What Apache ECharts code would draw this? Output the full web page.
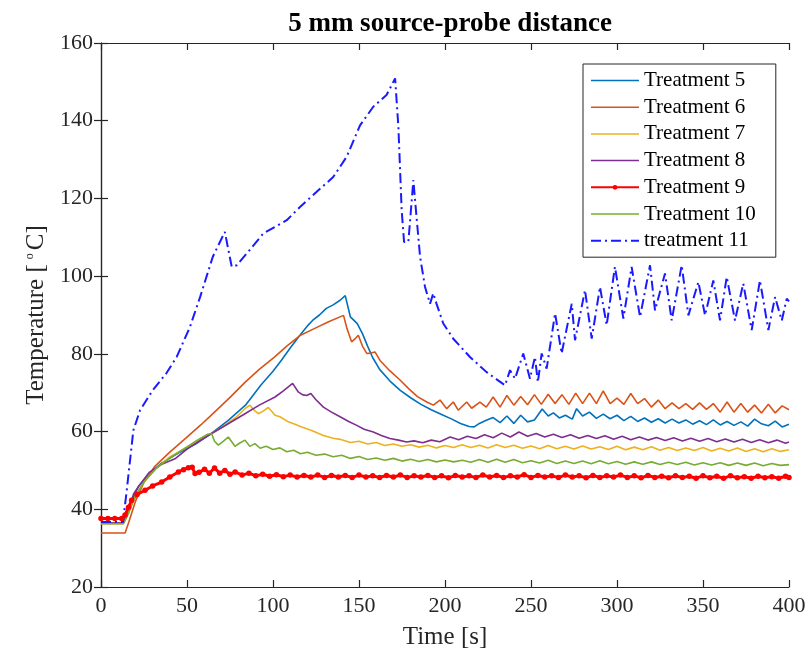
<!DOCTYPE html>
<html><head><meta charset="utf-8">
<script src="https://cdn.jsdelivr.net/npm/echarts@6/dist/echarts.min.js"></script>
<style>html,body{margin:0;padding:0;background:#fff}#c{width:811px;height:664px}</style>
</head><body><div id="c"></div>
<script>
const xTicks = [0,50,100,150,200,250,300,350,400];
const yTicks = [20,40,60,80,100,120,140,160];
const names = ['Treatment 5','Treatment 6','Treatment 7','Treatment 8','Treatment 9','Treatment 10','treatment 11'];

const t5 = [0,13,15,18,22,28,35,45,55,64,74,84,93,100,105,110,116,120,123,127,131,135,139,142,145,149,152,155,158,162,168,174,180,186,192,198,204,209,214,217,
220,224,228,232,236,240,244,248,252,256.5,260,263,266.5,270,274,276.5,280,284,288,292,296,300,304,308,312,316,320,324,328,332,336,340,344,348,352,356,360,364,368,372,376,380,384,388,392,396,400];
const v5 = [36.5,36.5,38.5,42.5,46,49,51.8,54.5,56.8,59.5,62.9,66.8,72,75.5,78.4,81.5,85,87.2,88.6,90,91.7,92.6,93.8,95,89.5,87.8,85.2,82,79,76,73,70.6,68.7,67,65.6,64.4,63.2,62.1,61.3,61.2,
62.1,62.9,63.6,62.3,64,62.1,64.2,62.5,63.0,65.8,64,64.8,63.5,64.2,63.2,65.9,64,65,63.4,64.5,63.3,64.2,62.8,63.9,62.6,63.5,62.4,63.3,62.2,63.2,62.2,63.0,61.9,62.8,61.8,63,61.7,62.6,61.6,62.5,61.4,63.2,62,61.5,62.7,61.2,61.9];

const t6 = [0,14,16,20,25,31,40,49,58,66,75,84,92,101,108,116,124,132,141,143,145.7,148,149.6,152,154.5,157,159.3,162.2,168,174,179,184,189.4,193.2,197.1,201,204.8,207.7,212.6,215.5,
220.3,224,228,232,236,240,244,248,252,256,260,264,268,272,276,280,284,288,292,296,300,304,308,312,316,320,324,328,332,336,340,344,348,352,356,360,364,368,372,376,380,384,388,392,396,400];
const v6 = [33.9,33.9,36.5,42,47,50.9,54.7,58.2,61.7,65,68.8,72.8,76,79.2,82,84.8,86.5,88.2,89.9,86.5,83.1,84,84.8,82,80.1,80.2,80.5,78.3,75.6,73.2,71,69,67.6,66.8,68.1,65.9,67.6,65.5,67.6,66,
67.6,66.3,68.9,66.3,69.3,66.8,69.0,66.9,69.5,67.0,69.6,67.2,69.5,67.0,69.9,67.2,69.9,67.2,70.5,67.2,68.6,67.0,69.8,67.2,68.5,66.3,68.1,65.9,67.4,65.9,67.2,65.7,67.4,65.7,67.2,65.0,67.6,65.0,67.2,65.0,66.8,64.8,67.0,64.8,66.6,65.6];

const t7 = [0,13,16,20,25,32,40,50,60,70,78,84,86.6,89,91.5,94,97.3,101.2,104,108.9,112,116.7,122.5,129.3,135,139,145,150,155,160,165,170,175,180,185,190,195,200,205,210,
215,220,225,230,235,240,245,250,255,260,265,270,275,280,285,290,295,300,305,310,315,320,325,330,335,340,345,350,355,360,365,370,375,380,385,390,395,400];
const v7 = [36.3,36.3,39,43.5,47,50.5,53.5,56,58.5,61,63.5,66,66.8,65.5,64.6,65.2,66.2,64.2,63.8,62.5,62,61.2,60.3,59,58.3,58,57.2,57.5,56.8,57.2,56.4,56.8,56.2,56.6,56,56.5,55.8,56.4,55.9,56.6,
55.9,56.5,55.8,56.6,55.9,56.5,55.7,56.3,55.6,56.4,55.6,56.2,55.5,56.3,55.5,56.1,55.4,56.2,55.3,56.0,55.3,56.1,55.2,55.9,55.1,55.8,55.1,55.9,55.0,55.7,55.0,55.8,54.9,55.6,54.8,55.6,54.9,55.3];

const t8 = [0,13,16,19,22,28,35,43,50,57,64.3,72,83.7,92,101.2,106,111.4,114.7,117,119.6,122,125,129.3,134,139,144,148.7,153,158.3,163,168,173,177.7,182,187,192,197,203,208,213,
218,223,228,233,238,243,248,253,258,263,268,273,278,283,288,293,298,303,308,313,318,323,328,333,338,343,348,353,358,363,368,373,378,383,388,393,398,400];
const v8 = [36.5,36.5,40,44,46,49.5,51.5,53,55.5,57.5,59.5,61.5,64.6,66.8,68.9,70.5,72.4,70.2,69.5,69.3,69.8,68.2,66.3,65,63.8,62.6,61.6,60.6,59.9,59,58.2,57.8,57.3,57.6,57.1,57.8,57.4,58.6,57.9,58.8,
58.2,59.2,58.4,59.6,58.6,59.9,58.8,59.5,58.6,59.3,58.5,59.2,58.3,59.0,58.2,58.9,58.0,58.8,57.9,58.6,57.8,58.5,57.7,58.4,57.6,58.3,57.5,58.2,57.4,58.1,57.3,58.0,57.2,57.9,57.1,57.8,57.0,57.3];

const t9 = [0,4,8,12,14,16,17.8,21,25.6,30,35.3,40,45,48,50.8,53,54.7,57,60.2,63,66,69,72,75,78,82,86,90,94,98,102,106,110,114,118,122,126,130,134,138,
142,146,150,154,158,162,166,170,174,178,182,186,190,194,198,202,206,210,214,218,222,226,230,234,238,242,246,250,254,258,262,266,270,274,278,282,286,290,294,298,
302,306,310,314,318,322,326,330,334,338,342,346,350,354,358,362,366,370,374,378,382,386,390,394,398,400];
const v9 = [37.6,37.6,37.6,37.6,38.5,40.5,42.3,43.8,44.9,46,47,48.3,49.6,50.2,50.7,50.8,49.2,49.5,50.3,49.3,50.6,49.3,50.0,49.0,49.6,48.8,49.3,48.6,49.0,48.5,48.9,48.4,48.8,48.3,48.7,48.3,48.8,48.2,48.7,48.3,
48.7,48.2,48.8,48.3,48.6,48.2,48.7,48.3,48.8,48.2,48.6,48.3,48.7,48.2,48.6,48.1,48.7,48.3,48.6,48.2,48.8,48.3,48.7,48.2,48.6,48.3,48.9,48.2,48.7,48.3,
48.6,48.2,48.8,48.3,48.6,48.1,48.7,48.2,48.6,48.3,48.8,48.2,48.6,48.1,48.7,48.2,48.5,48.1,48.6,48.2,48.5,48.0,48.6,48.1,48.5,48.0,48.6,48.1,48.4,48.0,48.5,48.1,48.4,48.0,48.5,48.2];

const t10 = [0,13,16,20,25,32,40,48,56,62,64.3,66,68.2,71,74,77.9,80.5,83.7,86.5,89.5,92.5,96,100,104,108,112,116,120,125,130,135,140,145,150,155,160,165,170,175,180,
185,190,195,200,205,210,215,220,225,230,235,240,245,250,255,260,265,270,275,280,285,290,295,300,305,310,315,320,325,330,335,340,345,350,355,360,365,370,375,380,385,390,395,400];
const v10 = [36.3,36.3,39,43.5,47,50.5,53.2,55.5,57.8,59.3,59.5,57.5,56.5,57.5,58.6,56.2,57,57.8,56.2,56.9,55.7,56.2,55.4,55.8,54.8,55.2,54.3,54.7,53.9,54.2,53.5,53.9,53.1,53.6,52.8,53.2,52.6,53.1,52.4,52.9,
52.3,52.8,52.2,52.7,52.2,52.6,52.1,52.8,52.1,52.9,52.1,52.8,52.0,52.5,51.9,52.6,51.8,52.4,51.8,52.4,51.7,52.5,51.7,52.3,51.6,52.2,51.6,52.2,51.5,52.1,51.5,52.1,51.4,52.0,51.4,52.0,51.3,51.9,51.3,51.9,51.2,51.8,51.3,51.5];

const t11 = [0,12.8,15,18.8,22.7,30,38,44,51.7,57.6,65,72,76,78.9,86,94.4,108,115.7,125.4,135,142.8,150.6,158.3,166,171,172.9,174.8,176.2,178.7,181.6,
182.6,185.5,188.4,191.3,193.2,195,199,204.8,214.5,224.2,234.9,237.8,240.7,245.5,249.4,252.3,254,256.2,259.1,264,267.8,273.7,275.6,281.4,285.3,290.1,294,298.8,303.7,308.5,
313.4,319.2,322.1,327.9,331.8,337.6,341.5,347.3,351.2,356,359.9,363.8,368.6,373.4,378.3,383.1,388,391.9,395.8,398.7,400];
const v11 = [36.7,36.7,45,60.3,65.5,70.6,75,79.2,86.9,94.6,105,111.4,102.4,102.8,106.5,111,114.4,117.8,121.7,125.5,130.7,138.8,143.6,146.6,150.9,138.4,117,108.8,108.8,124.7,
119.5,105,97.2,92.9,95.6,93,87.8,83.9,79.2,75.3,71.9,75.8,73.6,80.1,73.6,79.2,72.7,80.1,76.2,90.4,80.1,92.9,83.5,96.4,83.9,97.2,87.4,102.4,89.1,102.4,
89.5,102.8,91.2,100.7,88.6,102.8,89.9,98.5,89.9,98.9,88.6,99.8,88.6,98.1,86.1,98.9,86.1,94.6,88.6,94.2,93.5];

const colors = ['#0072BD','#D95319','#EDB120','#7E2F8E','#FF0000','#77AC30','#1A1AFF'];
const T = [t5,t6,t7,t8,t9,t10,t11];
const V = [v5,v6,v7,v8,v9,v10,v11];

const FONT = 'Liberation Serif';
const solidIcon = 'path://M0,0H48V1.5H0Z';
const dashDotIcon = 'path://M0,0H10V2H0Z M14,0H16V2H14Z M20,0H30V2H20Z M34,0H36V2H34Z M40,0H48V2H40Z';

const series = names.map((n,i)=>{
  const s = {
    name:n, type:'line', xAxisIndex:0, yAxisIndex:0,
    data: T[i].map((t,j)=>[t,V[i][j]]),
    color: colors[i],
    symbol:'none', smooth:false, animation:false,
    lineStyle:{width:1.6, color:colors[i]},
    itemStyle:{color:colors[i]}
  };
  if(i===4){ s.symbol='circle'; s.symbolSize=5.5; s.showSymbol=true; s.lineStyle.width=3; }
  if(i===6){ s.lineStyle.width=2; s.lineStyle.type=[10,4,2,4]; }
  return s;
});

const legendData = names.map((n,i)=>{
  if(i===4) return {name:n};
  return {name:n, icon: i===6 ? dashDotIcon : solidIcon, itemStyle:{color:colors[i]}};
});

const axisCommon = {
  axisLine:{show:true, lineStyle:{color:'#262626', width:1.2}},
  axisTick:{show:true, inside:true, length:7, lineStyle:{color:'#262626', width:1.2}},
  splitLine:{show:false}
};

const chart = echarts.init(document.getElementById('c'), null, {renderer:'canvas'});
chart.setOption({
  backgroundColor:'#fff',
  animation:false,
  title:{text:'5 mm source-probe distance', left:445, textAlign:'center', top:6,
    textStyle:{fontFamily:FONT, fontWeight:'bold', fontSize:27, color:'#000'}},
  grid:{left:101, right:22, top:43, bottom:77, containLabel:false},
  legend:{data:legendData, orient:'vertical', left:583, top:64, itemWidth:48, itemHeight:6, itemGap:5.7,
    padding:[6,20,6,7], borderColor:'#262626', borderWidth:1, backgroundColor:'#fff',
    textStyle:{fontFamily:FONT, fontSize:21, color:'#000', lineHeight:20}},
  xAxis:[
    Object.assign({type:'value', min:xTicks[0], max:xTicks[xTicks.length-1], interval:50, position:'bottom',
      name:'Time [s]', nameLocation:'middle', nameGap:38,
      nameTextStyle:{fontFamily:FONT, fontSize:25, color:'#262626'},
      axisLabel:{fontFamily:FONT, fontSize:22, color:'#262626', margin:8}}, axisCommon),
    Object.assign({type:'value', min:xTicks[0], max:xTicks[xTicks.length-1], interval:50, position:'top',
      axisLabel:{show:false}}, axisCommon)
  ],
  yAxis:[
    Object.assign({type:'value', min:yTicks[0], max:yTicks[yTicks.length-1], interval:20, position:'left',
      name:'Temperature [{sup|o}C]', nameLocation:'middle', nameGap:47,
      nameTextStyle:{fontFamily:FONT, fontSize:25, color:'#262626',
        rich:{sup:{fontFamily:FONT, fontSize:12, color:'#262626', verticalAlign:'top', padding:[0,3,12,5]}}},
      axisLabel:{fontFamily:FONT, fontSize:22, color:'#262626', margin:8}}, axisCommon),
    Object.assign({type:'value', min:yTicks[0], max:yTicks[yTicks.length-1], interval:20, position:'right',
      axisLabel:{show:false}}, axisCommon)
  ],
  series: series
});
</script>
</body></html>
